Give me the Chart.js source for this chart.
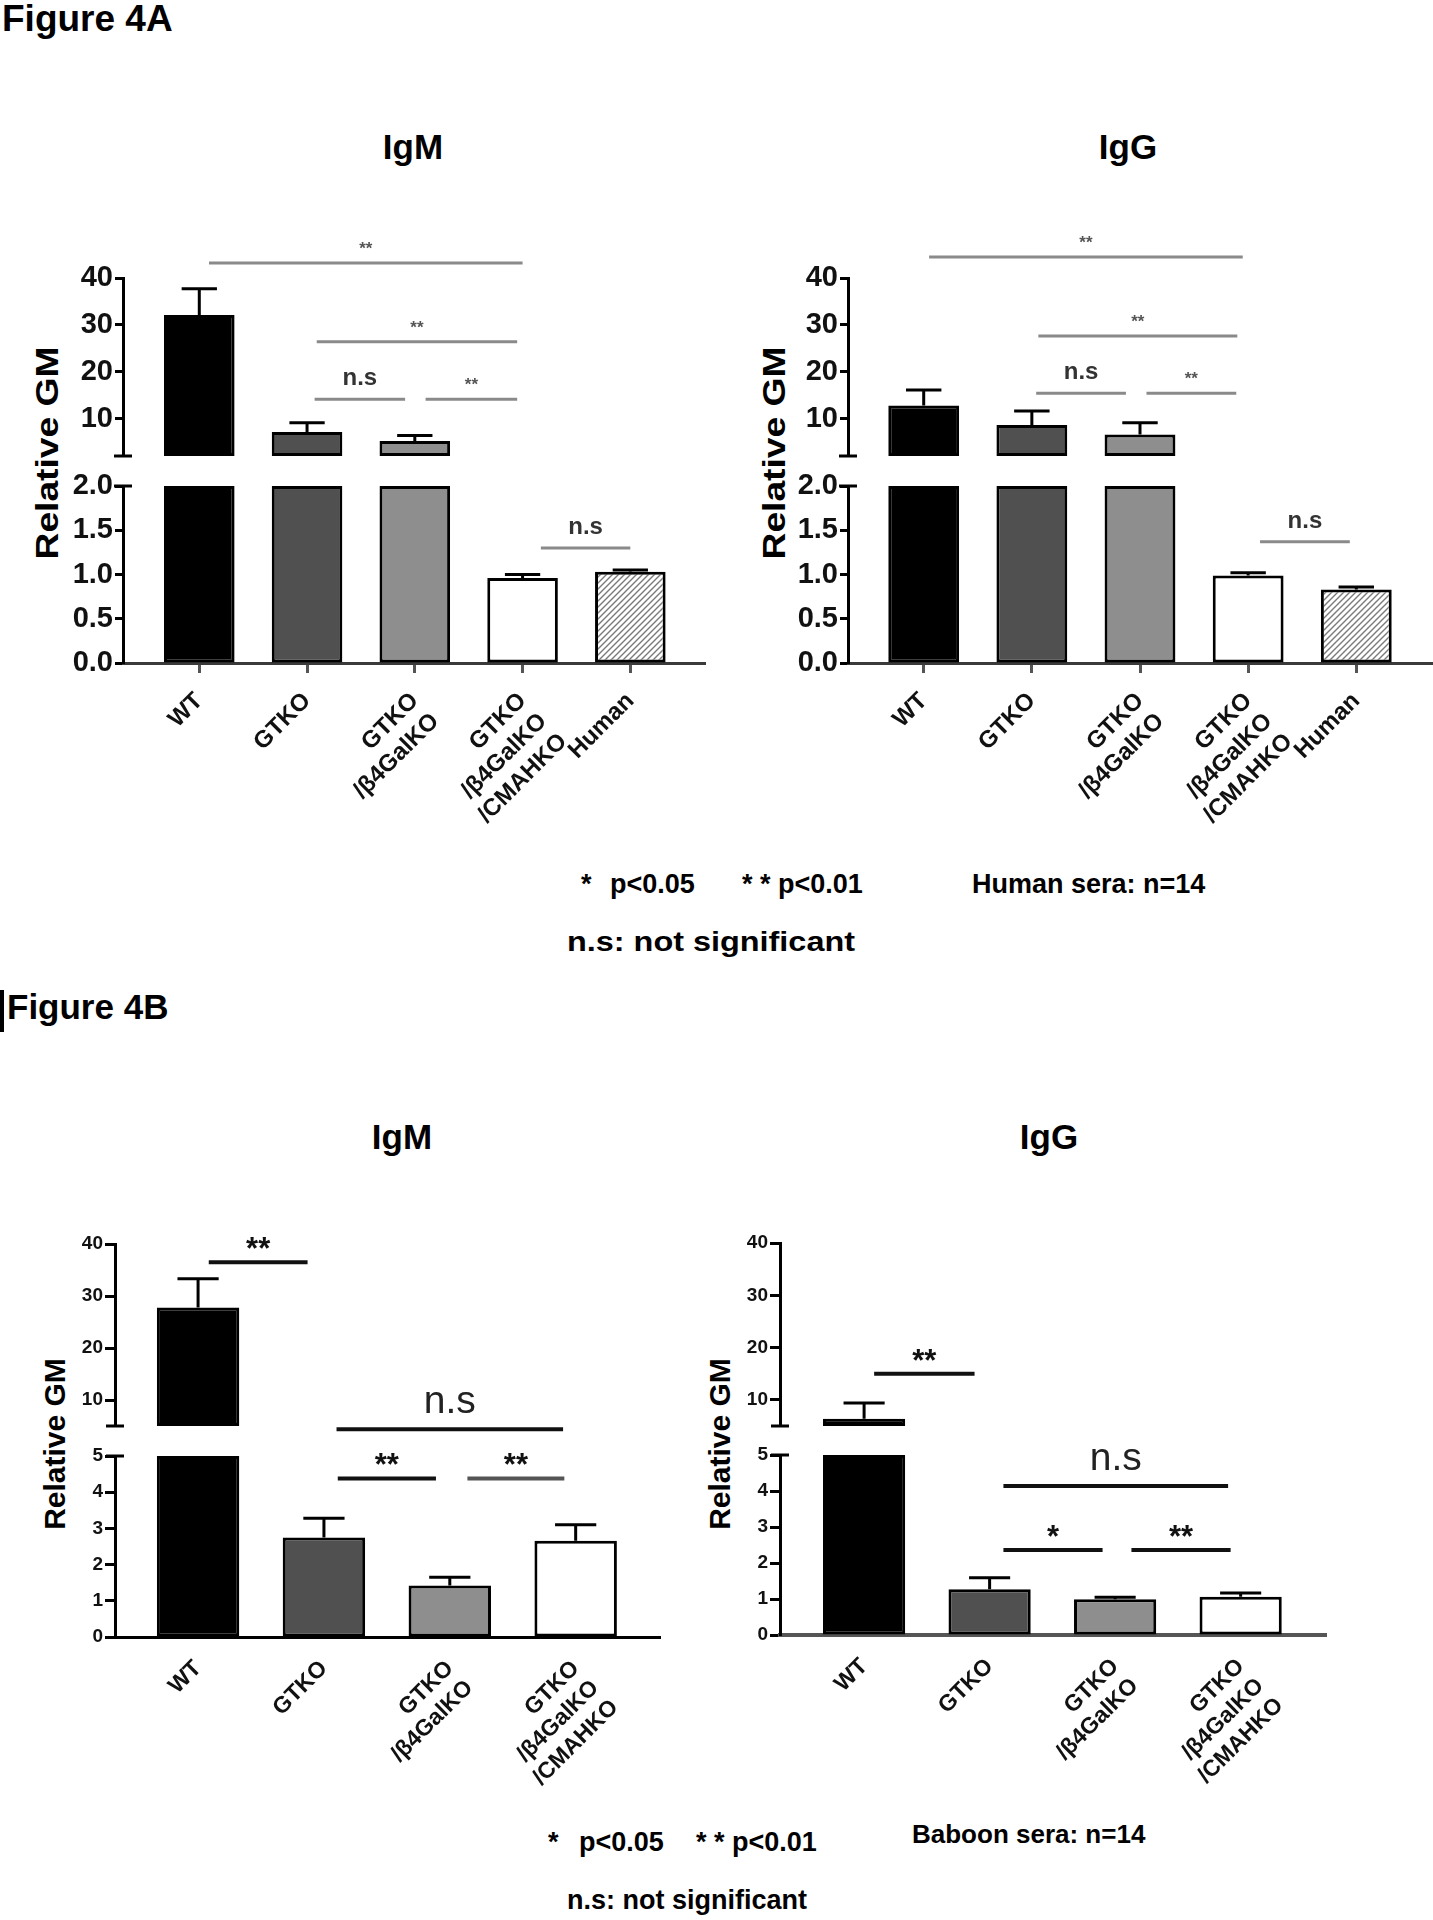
<!DOCTYPE html>
<html><head><meta charset="utf-8">
<script src="https://cdn.jsdelivr.net/npm/chart.js@4.4.1/dist/chart.umd.min.js"></script>
<style>
body{margin:0;background:#fff;}
#page{position:relative;width:1433px;height:1920px;overflow:hidden;background:#fff;font-family:"Liberation Sans",Arial,Helvetica,sans-serif;color:#000;}
.t{position:absolute;white-space:nowrap;font-weight:bold;line-height:1;}
.rot{position:absolute;white-space:nowrap;font-weight:bold;line-height:1;font-size:30px;}
canvas{position:absolute;}
</style></head><body><div id="page">
<div class="t" style="left:2px;top:0px;font-size:37px;">Figure 4A</div>
<div class="t" style="left:413px;top:129px;font-size:35px;transform:translateX(-50%);">IgM</div>
<div class="t" style="left:1128px;top:129px;font-size:35px;transform:translateX(-50%);">IgG</div>
<div class="rot" style="left:47px;top:453px;font-size:31px;transform:translate(-50%,-50%) rotate(-90deg) scaleX(1.2);">Relative GM</div>
<div class="rot" style="left:774px;top:453px;font-size:31px;transform:translate(-50%,-50%) rotate(-90deg) scaleX(1.2);">Relative GM</div>
<div class="t" style="left:581px;top:871px;font-size:27px;">*</div>
<div class="t" style="left:610px;top:871px;font-size:27px;">p&lt;0.05</div>
<div class="t" style="left:742px;top:871px;font-size:27px;">* *</div>
<div class="t" style="left:778px;top:871px;font-size:27px;">p&lt;0.01</div>
<div class="t" style="left:972px;top:871px;font-size:27px;">Human sera: n=14</div>
<div class="t" style="left:567px;top:929px;font-size:27px;transform:scaleX(1.2);transform-origin:0 0;">n.s: not significant</div>

<div style="position:absolute;left:0;top:990px;width:4px;height:42px;background:#000;"></div>
<div class="t" style="left:7px;top:989px;font-size:35px;">Figure 4B</div>
<div class="t" style="left:402px;top:1119px;font-size:35px;transform:translateX(-50%);">IgM</div>
<div class="t" style="left:1049px;top:1119px;font-size:35px;transform:translateX(-50%);">IgG</div>
<div class="rot" style="left:55px;top:1444px;transform:translate(-50%,-50%) rotate(-90deg);">Relative GM</div>
<div class="rot" style="left:720px;top:1444px;transform:translate(-50%,-50%) rotate(-90deg);">Relative GM</div>
<div class="t" style="left:548px;top:1829px;font-size:27px;">*</div>
<div class="t" style="left:579px;top:1829px;font-size:27px;">p&lt;0.05</div>
<div class="t" style="left:696px;top:1829px;font-size:27px;">* *</div>
<div class="t" style="left:732px;top:1829px;font-size:27px;">p&lt;0.01</div>
<div class="t" style="left:912px;top:1821px;font-size:26px;">Baboon sera: n=14</div>
<div class="t" style="left:567px;top:1887px;font-size:27px;">n.s: not significant</div>
</div>
<script>
// ---------------- DATA ----------------
const xLabelsA = [['WT'], ['GTKO'], ['GTKO', '/β4GalKO'], ['GTKO', '/β4GalKO', '/CMAHKO'], ['Human']];
const xLabelsB = [['WT'], ['GTKO'], ['GTKO', '/β4GalKO'], ['GTKO', '/β4GalKO', '/CMAHKO']];

const igmA_mean = [32.1, 7.1, 5.2, 0.96, 1.03];
const igmA_err  = [37.7, 9.1, 6.4, 1.00, 1.05];
const iggA_mean = [12.8, 8.6, 6.6, 0.99, 0.83];
const iggA_err  = [16.1, 11.6, 9.1, 1.02, 0.86];
const igmB_mean = [27.8, 2.75, 1.42, 2.66];
const igmB_err  = [33.3, 3.28, 1.65, 3.10];
const iggB_mean = [6.4, 1.27, 0.99, 1.06];
const iggB_err  = [9.4, 1.59, 1.05, 1.17];

const yTicksA_top = [10, 20, 30, 40];
const yTicksA_bottom = [0, 0.5, 1, 1.5, 2];
const yTicksB_top = [10, 20, 30, 40];
const yTicksB_bottom = [0, 1, 2, 3, 4, 5];

// significance brackets: [from category, to category, height (data units), label]
const igmA_brTop = [[0.09, 3.0, 43.2, '**'], [1.09, 2.95, 26.4, '**'], [1.07, 1.91, 14.1, 'n.s'], [2.1, 2.95, 14.1, '**']];
const igmA_brBot = [[3.17, 4.0, 1.30, 'n.s']];
const iggA_brTop = [[0.05, 2.95, 44.5, '**'], [1.06, 2.9, 27.6, '**'], [1.04, 1.87, 15.4, 'n.s'], [2.06, 2.89, 15.4, '**']];
const iggA_brBot = [[3.11, 3.94, 1.37, 'n.s']];
const igmB_brTop = [[0.085, 0.87, 36.5, '**']];
const igmB_brBot = [[1.1, 2.9, 5.74, 'n.s'], [1.11, 1.89, 4.38, '**'], [2.14, 2.91, 4.38, '**', '#555']];
const iggB_brTop = [[0.08, 0.88, 15.0, '**']];
const iggB_brBot = [[1.11, 2.9, 4.14, 'n.s'], [1.11, 1.9, 2.36, '*'], [2.13, 2.92, 2.36, '**']];

// ---------------- STYLE / LAYOUT ----------------
const FONT = "'Liberation Sans', Arial, Helvetica, sans-serif";
const page = document.getElementById('page');

function hatch() {
  const c = document.createElement('canvas'); c.width = 6; c.height = 6;
  const g = c.getContext('2d');
  g.fillStyle = '#fff'; g.fillRect(0, 0, 6, 6);
  g.strokeStyle = '#7a7a7a'; g.lineWidth = 1.4;
  g.beginPath();
  g.moveTo(-1, 7); g.lineTo(7, -1);
  g.moveTo(-4, 4); g.lineTo(4, -4);
  g.moveTo(2, 10); g.lineTo(10, 2);
  g.stroke();
  return g.createPattern(c, 'repeat');
}
const fills = ['#000000', '#505050', '#8e8e8e', '#ffffff', hatch()];

const styleA = {
  yFont: {family: FONT, size: 29, weight: 'bold'}, xFont: {family: FONT, size: 24, weight: 'bold'},
  yTickLen: 8, xTicks: true, xPad: 14, xAxisColor: '#3a3a3a', xAxisWidth: 3,
  lineColor: '#8a8a8a', lineWidth: 3,
  starFont: 'bold 17px ' + FONT, starColor: '#555', starOff: 9,
  nsFont: 'bold 24px ' + FONT, nsColor: '#333', nsOff: 14
};
const styleB = {
  yFont: {family: FONT, size: 19, weight: 'bold'}, xFont: {family: FONT, size: 23, weight: 'bold'},
  yTickLen: 10, xTicks: false, xPad: 18, xAxisColor: '#000', xAxisWidth: 3,
  lineColor: '#111', lineWidth: 4,
  starFont: 'bold 31px ' + FONT, starColor: '#111', starOff: 3,
  nsFont: '39px ' + FONT, nsColor: '#222', nsOff: 16
};

const panels = [
  {labels: xLabelsA, mean: igmA_mean, err: igmA_err, st: styleA, axisX: 123, axisEnd: 705, xMin: -0.708, xMax: 4.693,
   top: {min: 2, max: 40, ticks: yTicksA_top, dec: 0, yHi: 278.3, yLo: 456.7, br: igmA_brTop},
   bot: {min: 0, max: 2, ticks: yTicksA_bottom, dec: 1, yHi: 486, yLo: 663.3, br: igmA_brBot}},
  {labels: xLabelsA, mean: iggA_mean, err: iggA_err, st: styleA, axisX: 848, axisEnd: 1431.5, xMin: -0.70, xMax: 4.70,
   top: {min: 2, max: 40, ticks: yTicksA_top, dec: 0, yHi: 278.3, yLo: 456.7, br: iggA_brTop},
   bot: {min: 0, max: 2, ticks: yTicksA_bottom, dec: 1, yHi: 486, yLo: 663.3, br: iggA_brBot}},
  {labels: xLabelsB, mean: igmB_mean, err: igmB_err, st: styleB, axisX: 115, axisEnd: 660, xMin: -0.66, xMax: 3.67,
   top: {min: 5, max: 40, ticks: yTicksB_top, dec: 0, yHi: 1244.3, yLo: 1426.6, br: igmB_brTop},
   bot: {min: 0, max: 5, ticks: yTicksB_bottom, dec: 0, yHi: 1456, yLo: 1636.8, br: igmB_brBot}},
  {labels: xLabelsB, mean: iggB_mean, err: iggB_err, st: Object.assign({}, styleB, {xAxisColor: '#555', xAxisWidth: 4}),
   axisX: 780, axisEnd: 1325.5, xMin: -0.67, xMax: 3.68,
   top: {min: 5, max: 40, ticks: yTicksB_top, dec: 0, yHi: 1243.3, yLo: 1426, br: iggB_brTop},
   bot: {min: 0, max: 5, ticks: yTicksB_bottom, dec: 0, yHi: 1455, yLo: 1635, br: iggB_brBot}}
];

const YW = 110, PR = 8, PT_TOP = 80, PB_TOP = 26, PT_BOT = 80, XH = 190;

function annot(P, seg, isTop) {
  return {
    id: 'annot',
    afterDatasetsDraw(chart) {
      const ctx = chart.ctx, xs = chart.scales.x, ys = chart.scales.y, ca = chart.chartArea, st = P.st;
      const meta = chart.getDatasetMeta(0);
      ctx.save();
      // error bars (upper whisker)
      P.err.forEach((e, i) => {
        const v = P.mean[i];
        if (v < seg.min || v > seg.max) return;
        const bar = meta.data[i];
        if (!bar) return;
        const x = xs.getPixelForValue(i);
        const y0 = ys.getPixelForValue(v), y1 = ys.getPixelForValue(Math.min(e, seg.max));
        const half = bar.width * 0.25;
        ctx.strokeStyle = '#000'; ctx.lineWidth = 3; ctx.lineCap = 'butt';
        ctx.beginPath();
        ctx.moveTo(x, y0); ctx.lineTo(x, y1);
        ctx.moveTo(x - half, y1); ctx.lineTo(x + half, y1);
        ctx.stroke();
      });
      // axis break marks
      ctx.strokeStyle = '#000'; ctx.lineWidth = 3;
      const by = isTop ? ca.bottom : ca.top;
      ctx.beginPath(); ctx.moveTo(ca.left - 9, by); ctx.lineTo(ca.left + 9, by); ctx.stroke();
      // significance brackets
      seg.br.forEach(([a, b, v, label, color]) => {
        const x0 = xs.getPixelForValue(a), x1 = xs.getPixelForValue(b), y = ys.getPixelForValue(v);
        ctx.strokeStyle = color || st.lineColor; ctx.lineWidth = st.lineWidth;
        ctx.beginPath(); ctx.moveTo(x0, y); ctx.lineTo(x1, y); ctx.stroke();
        const ns = label === 'n.s';
        ctx.font = ns ? st.nsFont : st.starFont;
        ctx.fillStyle = ns ? st.nsColor : st.starColor;
        ctx.textAlign = 'center'; ctx.textBaseline = 'alphabetic';
        ctx.fillText(label, (x0 + x1) / 2, y - (ns ? st.nsOff : st.starOff));
      });
      ctx.restore();
    }
  };
}

function segmentChart(P, which) {
  const isTop = which === 'top';
  const seg = P[which];
  const st = P.st;
  const areaW = P.axisEnd - P.axisX;
  const areaH = seg.yLo - seg.yHi;
  const PT = isTop ? PT_TOP : PT_BOT;
  const PB = isTop ? PB_TOP : 0;
  const W = Math.round(YW + areaW + PR);
  const H = Math.round(PT + areaH + PB + (isTop ? 0 : XH));
  const cv = document.createElement('canvas');
  cv.width = W; cv.height = H;
  cv.style.width = W + 'px'; cv.style.height = H + 'px';
  cv.style.left = (P.axisX - YW) + 'px';
  cv.style.top = (seg.yHi - PT) + 'px';
  page.appendChild(cv);
  const data = P.mean.map((v, i) => ({x: i, y: isTop ? (v > seg.min ? v : null) : Math.min(v, seg.max)}));
  const xScale = {
    type: 'linear', min: P.xMin, max: P.xMax, bounds: 'data', display: !isTop, offset: false,
    afterBuildTicks: s => { s.ticks = P.labels.map((_, i) => ({value: i})); },
    ticks: {autoSkip: false, minRotation: 45, maxRotation: 45, callback: v => P.labels[v], font: st.xFont, color: '#111', padding: st.xPad},
    grid: {display: true, offset: false, drawOnChartArea: false, drawTicks: st.xTicks, tickLength: 10, tickWidth: 3, tickColor: '#555'},
    border: {display: true, color: st.xAxisColor, width: st.xAxisWidth}
  };
  if (!isTop) xScale.afterFit = s => { s.height = XH; };
  new Chart(cv, {
    type: 'bar',
    data: {datasets: [{data, base: seg.min, backgroundColor: fills, borderColor: '#000', borderWidth: 3,
      borderSkipped: false, categoryPercentage: 1, barPercentage: 0.655}]},
    options: {
      responsive: false, animation: false, devicePixelRatio: 1,
      layout: {padding: {top: PT, bottom: PB, left: 0, right: PR}},
      plugins: {legend: {display: false}, tooltip: {enabled: false}},
      scales: {
        x: xScale,
        y: {
          type: 'linear', min: seg.min, max: seg.max, bounds: 'data',
          afterBuildTicks: s => { s.ticks = seg.ticks.map(v => ({value: v})); },
          afterFit: s => { s.width = YW; },
          ticks: {callback: v => Number(v).toFixed(seg.dec), font: st.yFont, color: '#111', padding: 2},
          grid: {display: true, drawOnChartArea: false, drawTicks: true, tickLength: st.yTickLen, tickWidth: 3, tickColor: '#000'},
          border: {display: true, color: '#000', width: 3}
        }
      }
    },
    plugins: [annot(P, seg, isTop)]
  });
}

panels.forEach(P => { segmentChart(P, 'top'); segmentChart(P, 'bot'); });
</script>
</body></html>
